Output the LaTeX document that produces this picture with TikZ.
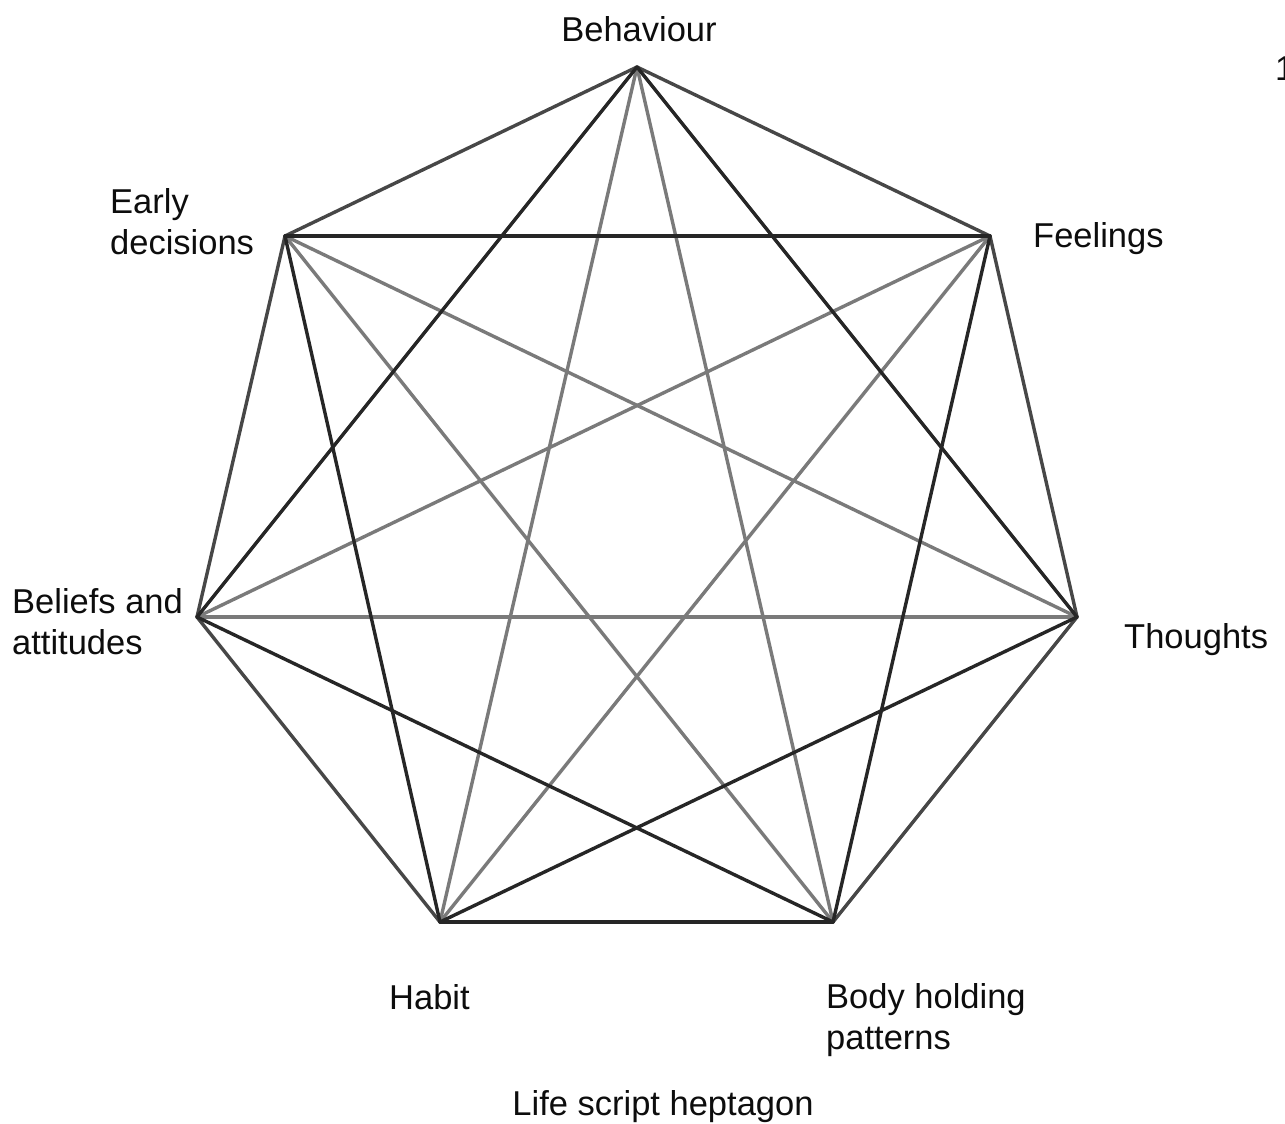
\documentclass[tikz,border=0pt]{standalone}
\usepackage{fontspec}
\setmainfont{Liberation Sans}
\begin{document}
\begin{tikzpicture}[x=1pt,y=-1pt,
  edge/.style={line width=3.4pt,line cap=round,line join=round},
  dk/.style={edge,draw=black!85},
  md/.style={edge,draw=black!72},
  lt/.style={edge,draw=black!52},
  lbl/.style={inner sep=0pt,font=\fontsize{34.5}{41}\selectfont,text=black!95}]
\useasboundingbox[fill=white] (0,0) rectangle (1285,1124);
\coordinate (B) at (637,67);
\coordinate (F) at (990,236);
\coordinate (T) at (1077,617);
\coordinate (BH) at (833,922);
\coordinate (H) at (440,922);
\coordinate (BA) at (197,617);
\coordinate (E) at (285,236);
% light edges
\draw[lt] (B) -- (BH);
\draw[lt] (B) -- (H);
\draw[lt] (E) -- (T);
\draw[lt] (F) -- (BA);
\draw[lt] (F) -- (H);
\draw[lt] (T) -- (BA);
\draw[lt] (E) -- (BH);
% medium edges
\draw[md] (B) -- (F);
\draw[md] (B) -- (E);
\draw[md] (E) -- (BA);
\draw[md] (F) -- (T);
\draw[md] (T) -- (BH);
\draw[md] (BA) -- (H);
% dark edges
\draw[dk] (B) -- (T);
\draw[dk] (B) -- (BA);
\draw[dk] (E) -- (F);
\draw[dk] (E) -- (H);
\draw[dk] (F) -- (BH);
\draw[dk] (T) -- (H);
\draw[dk] (BA) -- (BH);
\draw[dk] (H) -- (BH);
% labels
\node[lbl] (lB) at (639,29) {Behaviour};
\node[lbl,anchor=west,align=left] (lE) at (110,222) {Early\\decisions};
\node[lbl,anchor=west] (lF) at (1033,239) {Feelings};
\node[lbl,anchor=west,align=left] (lBA) at (12,622) {Beliefs and\\attitudes};
\node[lbl,anchor=west] (lT) at (1124,640) {Thoughts};
\node[lbl,anchor=west] (lH) at (389,997) {Habit};
\node[lbl,anchor=west,align=left] (lBH) at (826,1020) {Body holding\\patterns};
\node[lbl] (cap) at (663,1107) {Life script heptagon};
\node[lbl,anchor=west] (one) at (1275,69) {1};
\end{tikzpicture}
\end{document}
